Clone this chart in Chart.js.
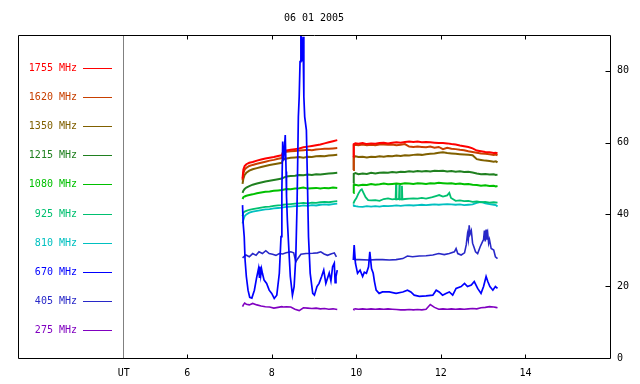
<!DOCTYPE html>
<html>
<head>
<meta charset="utf-8">
<script src="https://cdn.jsdelivr.net/npm/chart.js@4.4.1/dist/chart.umd.min.js"></script>
<style>
html,body{margin:0;padding:0;background:#fff;}
#wrap{width:640px;height:384px;}
</style>
</head>
<body>
<div id="wrap"><canvas id="c" width="640" height="384"></canvas></div>
<script>
// ---- data ----
const chartTitle = "06 01 2005";
const seriesNames = ["1755 MHz","1620 MHz","1350 MHz","1215 MHz","1080 MHz","925 MHz","810 MHz","670 MHz","405 MHz","275 MHz"];
const seriesColors = ["#ff0000","#c84000","#806000","#208020","#00c000","#00c070","#00c0c0","#0000ff","#2828c8","#8000c0"];
const xTickValues = [4.5, 6, 8, 10, 12, 14];
const xTickLabels = ["UT", "6", "8", "10", "12", "14"];
const yTickValues = [0, 20, 40, 60, 80];

// common time grid (UT hours); 9.74 marks the data gap
const times = [7.31,7.33,7.36,7.40,7.47,7.55,7.65,7.75,7.85,7.95,8.05,8.15,8.24,8.27,8.35,8.45,8.55,8.65,8.75,8.85,8.95,9.05,9.15,9.25,9.35,9.45,9.55,
  9.74,
  9.93,9.94,9.98,10.05,10.15,10.25,10.35,10.45,10.55,10.65,10.75,10.85,10.95,11.05,11.15,11.25,11.35,11.45,11.55,11.65,11.75,11.85,11.95,12.05,12.15,12.25,12.35,12.45,12.55,12.65,12.75,12.85,12.95,13.05,13.15,13.25,13.30,13.34];

const v1755 = [50.0,52.5,53.5,54.0,54.4,54.6,55.0,55.3,55.6,55.8,56.0,56.3,56.5,57.6,57.8,58.0,58.2,58.4,58.7,58.9,59.1,59.3,59.5,59.8,60.1,60.4,60.7,
  null,
  56.0,59.6,59.8,59.7,59.9,59.6,59.8,59.7,59.9,60.0,59.8,60.0,60.1,60.0,60.2,60.3,60.2,60.3,60.1,60.2,60.1,60.0,59.9,59.9,59.8,59.6,59.5,59.2,59.0,58.8,58.4,57.8,57.6,57.4,57.3,57.1,57.2,57.0];
const v1620 = [49.5,51.5,52.5,53.0,53.5,53.8,54.1,54.4,54.7,55.0,55.2,55.5,55.7,57.3,57.5,57.6,57.7,57.8,57.9,58.0,57.9,58.1,58.2,58.3,58.3,58.4,58.5,
  null,
  52.4,59.3,59.4,59.3,59.5,59.3,59.4,59.3,59.5,59.5,59.4,59.5,59.3,59.4,59.6,58.9,58.8,58.9,58.8,58.7,58.9,58.6,58.8,58.2,58.6,58.3,58.2,58.0,57.9,57.6,57.4,57.2,57.0,56.9,56.8,56.6,56.7,56.5];
const v1350 = [48.5,50.0,51.0,51.6,52.2,52.6,52.9,53.2,53.5,53.8,54.0,54.2,54.4,55.4,55.6,55.8,55.9,56.0,55.8,56.1,56.0,56.2,56.3,56.2,56.4,56.5,56.6,
  null,
  52.4,56.0,56.2,56.0,56.1,55.9,56.1,56.0,56.2,56.1,56.3,56.2,56.4,56.3,56.5,56.4,56.6,56.7,56.6,56.8,56.9,57.0,57.2,57.3,57.1,57.0,56.9,56.8,56.7,56.6,56.5,55.4,55.2,55.0,54.9,54.7,54.8,54.5];
const v1215 = [46.0,46.6,47.1,47.5,47.9,48.3,48.6,48.9,49.2,49.4,49.6,49.8,50.0,50.2,50.6,50.7,50.8,51.0,50.9,51.1,51.0,51.2,51.1,51.3,51.4,51.5,51.6,
  null,
  48.7,51.3,51.5,51.2,51.4,51.3,51.6,51.4,51.6,51.7,51.6,51.8,51.7,51.9,51.8,52.0,51.9,52.1,52.0,52.1,52.0,52.2,52.1,52.2,52.0,52.1,51.9,52.0,51.8,51.9,51.7,51.4,51.2,51.3,51.1,51.2,51.0,51.1];
const v1080 = [44.3,44.8,45.0,45.2,45.4,45.6,45.9,46.1,46.3,46.4,46.6,46.7,46.8,46.9,47.1,47.0,47.2,47.3,47.5,47.2,47.3,47.4,47.2,47.4,47.3,47.5,47.4,
  null,
  46.0,48.2,48.3,48.1,48.3,48.2,48.5,48.3,48.4,48.6,48.4,48.5,48.6,48.5,48.7,48.6,48.5,48.7,48.6,48.5,48.7,48.6,48.8,48.7,48.6,48.7,48.5,48.6,48.4,48.5,48.3,48.2,48.0,48.1,47.9,48.0,47.8,47.9];
const v810 = [37.5,38.5,39.5,40.0,40.5,40.8,41.0,41.2,41.4,41.5,41.7,41.8,41.9,42.0,42.1,42.2,42.3,42.3,42.5,42.4,42.6,42.5,42.7,42.8,42.7,42.9,43.0,
  null,
  42.3,42.5,42.3,42.2,42.1,42.3,42.2,42.3,42.2,42.4,42.3,42.4,42.5,42.4,42.5,42.6,42.5,42.6,42.7,42.6,42.7,42.8,42.7,42.8,42.9,42.8,42.7,42.8,42.6,42.7,42.8,43.2,43.5,43.1,42.9,42.7,42.6,42.2];
const v275 = [14.3,14.8,15.3,15.0,14.8,15.2,14.8,14.5,14.3,14.2,13.9,14.1,14.3,14.2,14.3,14.2,13.6,13.2,14.0,13.9,13.8,13.9,13.7,13.8,13.6,13.7,13.5,
  null,
  13.7,13.6,13.7,13.6,13.7,13.6,13.7,13.6,13.7,13.6,13.7,13.6,13.5,13.4,13.4,13.5,13.4,13.5,13.4,13.6,14.9,14.1,13.6,13.7,13.6,13.7,13.6,13.7,13.6,13.7,13.8,13.7,14.0,14.1,14.3,14.2,14.1,14.0];

// 925 MHz has its own time base (short spikes near 11 UT)
const t925 = [7.31,7.33,7.36,7.40,7.47,7.55,7.65,7.75,7.85,7.95,8.05,8.15,8.24,8.27,8.35,8.45,8.55,8.65,8.75,8.85,8.95,9.05,9.15,9.25,9.35,9.45,9.55,
  9.74,
  9.93,9.96,10.00,10.05,10.10,10.13,10.17,10.22,10.28,10.35,10.45,10.55,10.65,10.75,10.85,10.93,10.94,10.95,11.01,11.02,11.03,11.07,11.08,11.09,11.15,11.25,11.35,11.45,11.55,11.65,11.80,11.90,11.96,12.05,12.15,12.20,12.24,12.35,12.45,12.55,12.65,12.75,12.85,12.95,13.05,13.15,13.25,13.34];
const v925 = [39.5,40.5,40.8,41.0,41.3,41.5,41.7,41.9,42.1,42.2,42.4,42.5,42.6,42.7,42.8,42.9,43.0,43.1,43.2,43.1,43.3,43.2,43.4,43.5,43.4,43.6,43.7,
  null,
  43.0,43.8,44.5,45.8,46.8,47.0,46.0,44.8,44.0,43.9,44.0,43.8,44.3,44.5,44.2,44.3,48.5,44.2,44.3,48.3,44.2,44.3,48.0,44.2,44.3,44.4,44.5,44.4,44.6,44.4,44.8,45.2,45.4,45.0,45.3,46.0,44.6,43.8,43.9,43.7,43.8,43.5,43.6,43.4,43.5,43.3,43.4,43.3];

// 670 MHz (own time base, large bursts)
const t670 = [7.31,7.325,7.35,7.37,7.40,7.44,7.48,7.53,7.59,7.64,7.69,7.71,7.72,7.74,7.76,7.78,7.82,7.88,7.94,8.00,8.06,8.12,8.18,8.22,8.24,8.26,8.28,8.30,8.32,8.34,8.35,8.37,8.41,8.44,8.49,8.53,8.57,8.60,8.63,8.65,8.67,8.69,8.71,8.74,8.76,8.78,8.82,8.84,8.87,8.91,8.97,9.01,9.07,9.12,9.18,9.23,9.28,9.36,9.40,9.44,9.48,9.50,9.52,9.55,
  9.74,
  9.93,9.95,9.98,10.03,10.09,10.15,10.19,10.24,10.29,10.32,10.36,10.40,10.43,10.47,10.54,10.62,10.78,10.94,11.10,11.21,11.29,11.37,11.49,11.65,11.81,11.89,11.96,12.04,12.12,12.20,12.28,12.36,12.48,12.56,12.63,12.72,12.79,12.87,12.95,13.01,13.07,13.11,13.16,13.23,13.29,13.34];
const v670 = [42.6,37.5,33.8,27.3,22.7,18.9,16.9,16.7,18.9,22.2,25.0,22.5,25.5,23.0,24.8,23.6,21.7,20.8,18.9,18.0,16.6,17.5,23.6,33.8,46.8,60.3,55.0,58.0,62.1,52.0,45.0,38.4,29.2,22.7,17.5,19.9,28.2,43.1,67.2,72.8,82.6,92.0,82.6,89.5,72.8,67.2,63.5,52.0,33.8,23.6,18.0,17.5,19.9,20.8,22.7,24.5,20.8,23.7,21.5,25.4,26.4,21.0,22.7,24.5,
  null,
  27.3,31.5,26.4,23.6,24.5,22.7,23.9,23.6,25.4,29.6,24.9,23.6,21.3,18.9,18.0,18.4,18.4,18.0,18.4,18.9,18.4,17.5,17.2,17.3,17.5,18.9,18.4,17.5,18.0,18.4,17.5,19.4,19.9,20.8,19.9,20.3,21.3,19.4,18.0,19.9,22.7,21.3,19.9,18.9,19.9,19.4];

// 405 MHz (own time base)
const t405 = [7.31,7.39,7.47,7.55,7.63,7.70,7.78,7.86,7.94,8.02,8.10,8.18,8.26,8.34,8.45,8.52,8.57,8.61,8.69,8.81,8.97,9.08,9.16,9.24,9.32,9.40,9.48,9.53,
  9.74,
  9.93,9.96,10.07,10.30,10.47,10.62,10.78,10.94,11.10,11.21,11.33,11.49,11.65,11.81,11.95,12.08,12.20,12.32,12.36,12.40,12.48,12.56,12.60,12.63,12.65,12.67,12.69,12.72,12.75,12.78,12.82,12.87,12.93,12.98,13.01,13.03,13.05,13.07,13.09,13.11,13.13,13.15,13.19,13.25,13.29,13.34];
const v405 = [27.9,28.7,28.2,29.1,28.6,29.6,29.1,29.9,29.1,28.9,28.6,29.1,29.0,29.3,29.6,29.3,26.8,27.6,28.9,29.1,29.2,29.3,29.6,29.0,28.6,29.0,29.3,28.2,
  null,
  27.7,27.4,27.4,27.3,27.4,27.4,27.3,27.4,27.7,28.4,28.2,28.4,28.5,28.7,29.1,28.8,29.1,29.6,30.5,29.1,28.7,29.3,31.5,34.5,33.0,37.0,34.5,35.5,32.0,31.0,29.6,29.1,31.0,32.3,33.0,35.5,32.5,35.8,33.0,34.5,32.0,33.0,30.5,30.1,28.2,27.7];

// ---- build ----
const FONT = "'DejaVu Sans Mono', 'Liberation Mono', monospace";
Chart.defaults.font.family = FONT;
Chart.defaults.font.size = 10;
Chart.defaults.color = '#000';

function pts(ts, vs) { return ts.map((t, i) => ({ x: t, y: vs[i] })); }
const seriesData = [
  pts(times, v1755), pts(times, v1620), pts(times, v1350), pts(times, v1215), pts(times, v1080),
  pts(t925, v925), pts(times, v810), pts(t670, v670), pts(t405, v405), pts(times, v275)
];
const drawOrder = [2, 3, 4, 5, 6, 7, 8, 0, 9, 10];
const lineWidths = [2, 2, 2, 2, 2, 1.8, 1.8, 1.7, 1.6, 1.6];

const datasets = seriesData.map((d, i) => ({
  label: seriesNames[i],
  data: d,
  borderColor: seriesColors[i],
  backgroundColor: seriesColors[i],
  borderWidth: lineWidths[i],
  pointRadius: 0,
  fill: false,
  spanGaps: false,
  tension: 0,
  order: drawOrder[i]
}));

const framePlugin = {
  id: 'frame',
  afterDraw(chart) {
    const { ctx, chartArea: a, scales } = chart;
    const xs = scales.x, ys = scales.y;
    ctx.save();
    ctx.strokeStyle = '#000';
    ctx.lineWidth = 1;
    const L = Math.round(a.left) + 0.5, R = Math.round(a.right) + 0.5;
    const T = Math.round(a.top) + 0.5, B = Math.round(a.bottom) + 0.5;
    ctx.beginPath();
    ctx.rect(L, T, R - L, B - T);
    // inside tick marks
    xTickValues.forEach(v => {
      if (v === 4.5) return;
      const px = Math.round(xs.getPixelForValue(v)) + 0.5;
      ctx.moveTo(px, B); ctx.lineTo(px, B - 4);
      ctx.moveTo(px, T); ctx.lineTo(px, T + 4);
    });
    yTickValues.forEach(v => {
      if (v === 0) return;
      const py = Math.round(ys.getPixelForValue(v)) + 0.5;
      ctx.moveTo(R, py); ctx.lineTo(R - 5, py);
    });
    ctx.stroke();
    // title
    ctx.font = '10px ' + FONT;
    ctx.fillStyle = '#000';
    ctx.textAlign = 'center';
    ctx.textBaseline = 'middle';
    ctx.fillText(chartTitle, (a.left + a.right) / 2, 18);
    // legend
    ctx.textAlign = 'right';
    seriesNames.forEach((name, i) => {
      const y = Math.round(a.top + 32.5 + i * 29.2) + 0.5;
      ctx.fillStyle = seriesColors[i];
      ctx.fillText(name, 77, y);
      ctx.strokeStyle = seriesColors[i];
      ctx.beginPath();
      ctx.moveTo(83, y); ctx.lineTo(112, y);
      ctx.stroke();
    });
    ctx.restore();
  }
};

new Chart(document.getElementById('c'), {
  type: 'line',
  data: { datasets },
  options: {
    responsive: false,
    animation: false,
    events: [],
    layout: { padding: { left: 18, top: 35, right: 0, bottom: 0 } },
    plugins: { legend: { display: false }, tooltip: { enabled: false }, title: { display: false } },
    scales: {
      x: {
        type: 'linear', min: 2, max: 16, position: 'bottom',
        afterBuildTicks: s => { s.ticks = xTickValues.map(v => ({ value: v })); },
        afterFit: s => { s.height = 26; },
        ticks: {
          autoSkip: false, maxRotation: 0, padding: 9, color: '#000',
          callback: v => xTickLabels[xTickValues.indexOf(v)]
        },
        grid: {
          drawTicks: false, lineWidth: 1,
          color: c => (c.tick && c.tick.value === 4.5) ? '#808080' : 'rgba(0,0,0,0)'
        },
        border: { display: false }
      },
      y: {
        type: 'linear', min: 0, max: 90, position: 'right',
        afterBuildTicks: s => { s.ticks = yTickValues.map(v => ({ value: v })); },
        afterFit: s => { s.width = 30; },
        ticks: { padding: 7, color: '#000' },
        grid: { display: false, drawTicks: false },
        border: { display: false }
      }
    }
  },
  plugins: [framePlugin]
});
</script>
</body>
</html>
